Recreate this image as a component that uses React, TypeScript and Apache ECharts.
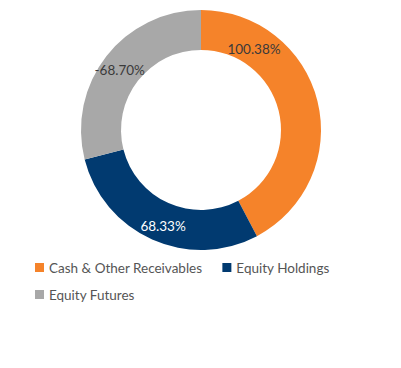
import React, { useEffect, useRef } from "react";
import * as echarts from "echarts";

const categories = ["Cash & Other Receivables", "Equity Holdings", "Equity Futures"];
const values = [100.38, 68.33, -68.7];
const colors = ["#F5832A", "#013A70", "#A8A8A8"];
const labelColors = ["#3a3a3a", "#ffffff", "#3a3a3a"];
const labelShifts = [
  [-47, -56],
  [4, 1.5],
  [0, 3],
];
const legendRows = [categories.slice(0, 2), categories.slice(2)];

export default function App() {
  const ref = useRef<HTMLDivElement>(null);
  useEffect(() => {
    document.body.style.margin = "0";
    const chart = echarts.init(ref.current!, undefined, { renderer: "svg" });
    const legendBase = {
      left: 35,
      padding: 0,
      itemWidth: 9,
      itemHeight: 9,
      itemGap: 20,
      icon: "rect",
      textStyle: { fontFamily: "Lato", fontSize: 13.5, color: "#555555" },
    };
    chart.setOption({
      animation: false,
      legend: legendRows.map((row, r) => ({ ...legendBase, top: 260.5 + r * 27, data: row })),
      series: [
        {
          type: "pie",
          center: [201, 130],
          radius: [80, 120],
          startAngle: 90,
          clockwise: true,
          avoidLabelOverlap: false,
          label: {
            show: true,
            position: "inside",
            fontFamily: "Lato",
            fontSize: 13.5,
          },
          labelLine: { show: false },
          emphasis: { disabled: true },
          labelLayout: (p: any) => ({ dx: labelShifts[p.dataIndex][0], dy: labelShifts[p.dataIndex][1] }),
          data: categories.map((name, i) => ({
            name,
            value: Math.abs(values[i]),
            itemStyle: { color: colors[i] },
            label: {
              color: labelColors[i],
              formatter: () => values[i].toFixed(2) + "%",
            },
          })),
        },
      ],
    });
    return () => chart.dispose();
  }, []);
  return <div ref={ref} style={{ width: 401, height: 368 }} />;
}
